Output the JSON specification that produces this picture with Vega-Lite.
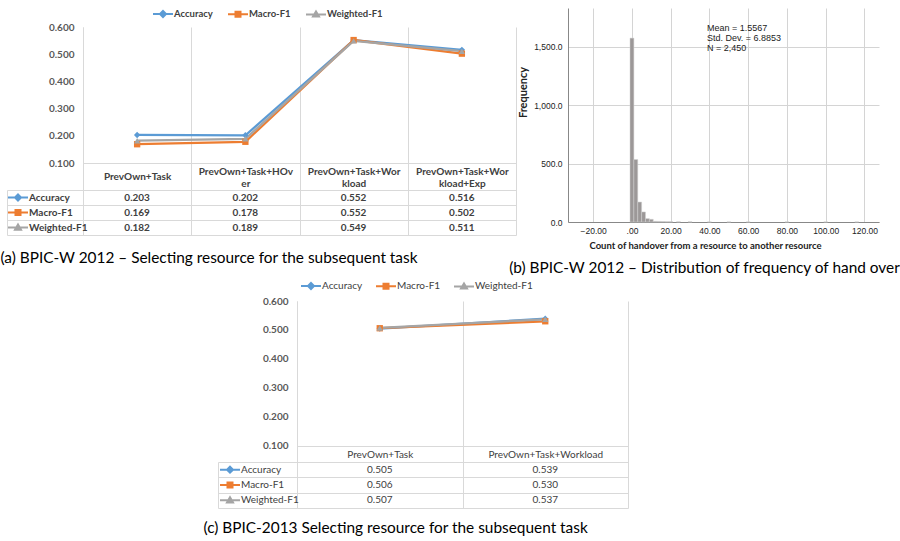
{
  "$schema": "https://vega.github.io/schema/vega-lite/v6.json",
  "width": 900,
  "height": 541,
  "autosize": "none",
  "padding": 0,
  "background": "white",
  "config": {"view": {"stroke": null}, "font": "Lato", "axis": {"labelFont": "Lato", "titleFont": "Lato"}, "legend": {"labelFont": "Lato"}},
  "datasets": {
    "a": [
      {"config": "PrevOwn+Task", "metric": "Accuracy", "value": 0.203},
      {"config": "PrevOwn+Task+HOver", "metric": "Accuracy", "value": 0.202},
      {"config": "PrevOwn+Task+Workload", "metric": "Accuracy", "value": 0.552},
      {"config": "PrevOwn+Task+Workload+Exp", "metric": "Accuracy", "value": 0.516},
      {"config": "PrevOwn+Task", "metric": "Macro-F1", "value": 0.169},
      {"config": "PrevOwn+Task+HOver", "metric": "Macro-F1", "value": 0.178},
      {"config": "PrevOwn+Task+Workload", "metric": "Macro-F1", "value": 0.552},
      {"config": "PrevOwn+Task+Workload+Exp", "metric": "Macro-F1", "value": 0.502},
      {"config": "PrevOwn+Task", "metric": "Weighted-F1", "value": 0.182},
      {"config": "PrevOwn+Task+HOver", "metric": "Weighted-F1", "value": 0.189},
      {"config": "PrevOwn+Task+Workload", "metric": "Weighted-F1", "value": 0.549},
      {"config": "PrevOwn+Task+Workload+Exp", "metric": "Weighted-F1", "value": 0.511}
    ],
    "c": [
      {"config": "PrevOwn+Task", "metric": "Accuracy", "value": 0.505},
      {"config": "PrevOwn+Task+Workload", "metric": "Accuracy", "value": 0.539},
      {"config": "PrevOwn+Task", "metric": "Macro-F1", "value": 0.506},
      {"config": "PrevOwn+Task+Workload", "metric": "Macro-F1", "value": 0.530},
      {"config": "PrevOwn+Task", "metric": "Weighted-F1", "value": 0.507},
      {"config": "PrevOwn+Task+Workload", "metric": "Weighted-F1", "value": 0.537}
    ],
    "hist": [
      {"bin_start": -1, "bin_end": 1, "count": 1575},
      {"bin_start": 1, "bin_end": 3, "count": 535},
      {"bin_start": 3, "bin_end": 5, "count": 171},
      {"bin_start": 5, "bin_end": 7, "count": 86},
      {"bin_start": 7, "bin_end": 9, "count": 29},
      {"bin_start": 9, "bin_end": 11, "count": 23},
      {"bin_start": 11, "bin_end": 13, "count": 6},
      {"bin_start": 13, "bin_end": 15, "count": 5},
      {"bin_start": 15, "bin_end": 17, "count": 4},
      {"bin_start": 17, "bin_end": 19, "count": 3},
      {"bin_start": 19, "bin_end": 21, "count": 3},
      {"bin_start": 23, "bin_end": 25, "count": 2},
      {"bin_start": 29, "bin_end": 31, "count": 2},
      {"bin_start": 39, "bin_end": 41, "count": 1},
      {"bin_start": 49, "bin_end": 51, "count": 1},
      {"bin_start": 59, "bin_end": 61, "count": 1},
      {"bin_start": 79, "bin_end": 81, "count": 1},
      {"bin_start": 99, "bin_end": 101, "count": 1},
      {"bin_start": 115, "bin_end": 117, "count": 1}
    ],
    "stats": [{"text": "Mean = 1.5567\nStd. Dev. = 6.8853\nN = 2,450"}]
  },
  "resolve": {
    "scale": {"x": "independent", "y": "independent", "color": "independent", "shape": "independent", "fill": "independent", "stroke": "independent"},
    "axis": {"x": "independent", "y": "independent"},
    "legend": {"color": "independent", "shape": "independent", "fill": "independent", "stroke": "independent"}
  },
  "layer": [
    {
      "data": {"name": "a"},
      "mark": {"type": "line", "strokeWidth": 2.25},
      "encoding": {
        "x": {"field": "config", "type": "nominal",
          "scale": {"domain": ["PrevOwn+Task", "PrevOwn+Task+HOver", "PrevOwn+Task+Workload", "PrevOwn+Task+Workload+Exp"], "range": [83, 516], "paddingInner": 0, "paddingOuter": 0},
          "axis": {"orient": "top", "offset": -190, "grid": true, "tickBand": "extent", "gridColor": "#d9d9d9", "domain": false, "ticks": false, "labelAngle": 0,
            "labelExpr": "length(datum.label) > 16 ? [substring(datum.label, 0, 16), substring(datum.label, 16)] : datum.label",
            "labelFontWeight": "bold", "labelFontSize": 10, "labelColor": "#404040", "labelBaseline": "middle",
            "labelPadding": {"condition": {"test": "length(datum.label) > 16", "value": 19}, "value": 13.5},
            "labelLineHeight": 12, "labelOverlap": false, "labelLimit": 200, "title": null}},
        "y": {"field": "value", "type": "quantitative",
          "scale": {"domain": [-0.1647, 0.6], "range": [235, 27], "nice": false, "zero": false},
          "axis": {"orient": "left", "offset": -83, "values": [0.1, 0.2, 0.3, 0.4, 0.5, 0.6], "format": ".3f", "labelFontWeight": "bold", "labelFontSize": 10, "labelColor": "#595959", "labelPadding": 9, "ticks": false, "domain": true, "domainColor": "#d9d9d9", "grid": true, "gridColor": "#d9d9d9",
            "gridOpacity": {"condition": {"test": "datum.value === 0.1", "value": 1}, "value": 0}, "labelOverlap": false, "title": null}},
        "color": {"field": "metric", "type": "nominal",
          "scale": {"domain": ["Accuracy", "Macro-F1", "Weighted-F1"], "range": ["#5B9BD5", "#ED7D31", "#A5A5A5"]},
          "legend": {"orient": "none", "legendX": 152, "legendY": 3, "direction": "horizontal", "title": null, "padding": 0, "symbolSize": 400, "symbolStrokeWidth": 2, "labelFontSize": 9.5, "labelFontWeight": "bold", "labelColor": "#404040", "labelOffset": 0, "columnPadding": 11,
            "encode": {"symbols": {"update": {
              "shape": {"signal": "datum.value === 'Accuracy' ? 'M-1,0H1M0,-0.3L0.3,0L0,0.3L-0.3,0Z' : datum.value === 'Macro-F1' ? 'M-1,0H1M-0.25,-0.25H0.25V0.25H-0.25Z' : 'M-1,0H1M0,-0.3L0.3,0.22H-0.3Z'"},
              "fill": {"signal": "datum.value === 'Accuracy' ? '#5B9BD5' : datum.value === 'Macro-F1' ? '#ED7D31' : '#A5A5A5'"},
              "stroke": {"signal": "datum.value === 'Accuracy' ? '#5B9BD5' : datum.value === 'Macro-F1' ? '#ED7D31' : '#A5A5A5'"},
              "strokeWidth": {"value": 2}, "opacity": {"value": 1}}}}}}
      }
    },
    {
      "data": {"name": "a"},
      "mark": {"type": "point", "filled": true, "opacity": 1, "size": 40},
      "encoding": {
        "x": {"field": "config", "type": "nominal",
          "scale": {"domain": ["PrevOwn+Task", "PrevOwn+Task+HOver", "PrevOwn+Task+Workload", "PrevOwn+Task+Workload+Exp"], "range": [83, 516], "paddingInner": 0, "paddingOuter": 0}, "axis": null},
        "y": {"field": "value", "type": "quantitative",
          "scale": {"domain": [-0.1647, 0.6], "range": [235, 27], "nice": false, "zero": false}, "axis": null},
        "color": {"field": "metric", "type": "nominal",
          "scale": {"domain": ["Accuracy", "Macro-F1", "Weighted-F1"], "range": ["#5B9BD5", "#ED7D31", "#A5A5A5"]}, "legend": null},
        "shape": {"field": "metric", "type": "nominal", "scale": {"domain": ["Accuracy", "Macro-F1", "Weighted-F1"], "range": ["diamond", "square", "triangle-up"]}, "legend": null}
      }
    },
    {
      "data": {"name": "a"},
      "mark": {"type": "text", "font": "Lato", "fontSize": 10, "fontWeight": "bold", "color": "#404040", "baseline": "middle"},
      "encoding": {
        "x": {"field": "config", "type": "nominal",
          "scale": {"domain": ["PrevOwn+Task", "PrevOwn+Task+HOver", "PrevOwn+Task+Workload", "PrevOwn+Task+Workload+Exp"], "range": [83, 516], "paddingInner": 0, "paddingOuter": 0},
          "axis": {"orient": "bottom", "offset": -306, "labels": false, "ticks": false, "domain": false, "grid": false,
            "title": "(a) BPIC-W 2012 – Selecting resource for the subsequent task", "titleX": 0, "titleY": 22, "titleAlign": "left", "titleAnchor": "start", "titleBaseline": "middle", "titleFont": "Lato", "titleFontSize": 15.4, "titleFontWeight": "normal", "titleColor": "#000000"}},
        "y": {"field": "metric", "type": "nominal",
          "scale": {"domain": ["Accuracy", "Macro-F1", "Weighted-F1"], "range": [190, 235], "paddingInner": 0, "paddingOuter": 0},
          "axis": {"orient": "left", "labels": false, "ticks": false, "domain": false, "grid": true, "tickBand": "extent", "gridColor": "#d9d9d9", "title": null}},
        "text": {"field": "value", "type": "quantitative", "format": ".3f"}
      }
    },
    {
      "data": {"name": "a"},
      "transform": [{"filter": "datum.config === 'PrevOwn+Task'"}],
      "encoding": {
        "x": {"datum": "key", "type": "nominal", "bandPosition": 0,
          "scale": {"range": [7, 83], "paddingInner": 0, "paddingOuter": 0},
          "axis": {"orient": "top", "grid": true, "tickBand": "extent", "gridColor": "#d9d9d9", "labels": false, "ticks": false, "domain": false, "title": null}},
        "y": {"field": "metric", "type": "nominal",
          "scale": {"domain": ["Accuracy", "Macro-F1", "Weighted-F1"], "range": [190, 235], "paddingInner": 0, "paddingOuter": 0},
          "axis": {"orient": "left", "labels": false, "ticks": false, "domain": false, "grid": true, "tickBand": "extent", "gridColor": "#d9d9d9", "title": null}}
      },
      "layer": [
        {"mark": {"type": "point", "filled": true, "opacity": 1, "size": 400, "strokeWidth": 2, "xOffset": 11},
         "encoding": {
           "shape": {"field": "metric", "type": "nominal", "scale": {"domain": ["Accuracy", "Macro-F1", "Weighted-F1"], "range": ["M-1,0H1M0,-0.3L0.3,0L0,0.3L-0.3,0Z", "M-1,0H1M-0.25,-0.25H0.25V0.25H-0.25Z", "M-1,0H1M0,-0.3L0.3,0.22H-0.3Z"]}, "legend": null},
           "fill": {"field": "metric", "type": "nominal", "scale": {"domain": ["Accuracy", "Macro-F1", "Weighted-F1"], "range": ["#5B9BD5", "#ED7D31", "#A5A5A5"]}, "legend": null},
           "stroke": {"field": "metric", "type": "nominal", "scale": {"domain": ["Accuracy", "Macro-F1", "Weighted-F1"], "range": ["#5B9BD5", "#ED7D31", "#A5A5A5"]}, "legend": null}}},
        {"mark": {"type": "text", "align": "left", "baseline": "middle", "dx": 22, "font": "Lato", "fontSize": 10, "fontWeight": "bold", "color": "#404040"},
         "encoding": {"text": {"field": "metric"}}}
      ]
    },
    {
      "data": {"name": "hist"},
      "mark": {"type": "rect", "fill": "#9c9898", "stroke": "#d0d0d0", "strokeWidth": 0.5},
      "encoding": {
        "x": {"field": "bin_start", "type": "quantitative",
          "scale": {"domain": [-33, 127.5], "range": [568, 879], "nice": false, "zero": false},
          "axis": {"orient": "top", "values": [-20, 0, 20, 40, 60, 80, 100, 120], "grid": true, "gridColor": "#d4d4d4", "labels": false, "ticks": false, "domain": false, "title": null}},
        "x2": {"field": "bin_end"},
        "y": {"field": "count", "type": "quantitative",
          "scale": {"domain": [0, 1833], "range": [222, 8], "nice": false, "zero": false},
          "axis": {"orient": "left", "offset": -568, "values": [0, 500, 1000, 1500], "format": ",.1f", "grid": true, "gridColor": "#d4d4d4", "ticks": false, "domain": true, "domainColor": "#888888",
            "labelFont": "Liberation Sans", "labelFontSize": 8.5, "labelColor": "#222222", "labelPadding": 6, "labelOverlap": false, "labelFlush": false,
            "title": "Frequency", "titleFont": "Lato", "titleFontSize": 11, "titleFontWeight": "bold", "titleColor": "#222222", "titleX": -45, "titleY": 92, "titleAngle": 270, "titleAlign": "center", "titleBaseline": "middle"}},
        "y2": {"datum": 0}
      }
    },
    {
      "data": {"name": "stats"},
      "mark": {"type": "text", "align": "left", "baseline": "top", "lineBreak": "\n", "font": "Liberation Sans", "fontSize": 9, "lineHeight": 10, "color": "#222222"},
      "encoding": {
        "text": {"field": "text"},
        "x": {"datum": 38.7, "type": "quantitative",
          "scale": {"domain": [-33, 127.5], "range": [568, 879], "nice": false, "zero": false},
          "axis": {"orient": "bottom", "offset": -319, "values": [-20, 0, 20, 40, 60, 80, 100, 120],
            "labelExpr": "datum.value === 0 ? '.00' : format(datum.value, '.2f')",
            "ticks": false, "domain": true, "domainColor": "#888888", "grid": false,
            "labelFont": "Liberation Sans", "labelFontSize": 8.5, "labelColor": "#222222", "labelPadding": 4, "labelFlush": false, "labelOverlap": false,
            "title": "Count of handover from a resource to another resource", "titleFont": "Lato", "titleFontSize": 9.5, "titleFontWeight": "bold", "titleColor": "#222222", "titleX": 705, "titleY": 23, "titleAlign": "center", "titleBaseline": "middle"}},
        "y": {"datum": 1700, "type": "quantitative",
          "scale": {"domain": [0, 1833], "range": [222, 8], "nice": false, "zero": false},
          "axis": {"orient": "right", "labels": false, "ticks": false, "domain": false, "grid": false,
            "title": "(b) BPIC-W 2012 – Distribution of frequency of hand over", "titleAngle": 0, "titleX": -196, "titleY": 267, "titleAlign": "center", "titleBaseline": "middle", "titleFont": "Lato", "titleFontSize": 15.4, "titleFontWeight": "normal", "titleColor": "#000000"}}
      }
    },
    {
      "data": {"name": "c"},
      "mark": {"type": "line", "strokeWidth": 2.25},
      "encoding": {
        "x": {"field": "config", "type": "nominal",
          "scale": {"domain": ["PrevOwn+Task", "PrevOwn+Task+Workload"], "range": [297, 628], "paddingInner": 0, "paddingOuter": 0},
          "axis": {"orient": "top", "offset": -462, "grid": true, "tickBand": "extent", "gridColor": "#d9d9d9", "domain": false, "ticks": false, "labelAngle": 0,
            "labelFontSize": 10, "labelColor": "#404040", "labelBaseline": "middle", "labelPadding": 8, "labelOverlap": false, "labelLimit": 200, "title": null}},
        "y": {"field": "value", "type": "quantitative",
          "scale": {"domain": [-0.1145, 0.6], "range": [508, 301], "nice": false, "zero": false},
          "axis": {"orient": "left", "offset": -297, "values": [0.1, 0.2, 0.3, 0.4, 0.5, 0.6], "format": ".3f", "labelFontWeight": "bold", "labelFontSize": 10, "labelColor": "#595959", "labelPadding": 9, "ticks": false, "domain": true, "domainColor": "#d9d9d9", "grid": true, "gridColor": "#d9d9d9",
            "gridOpacity": {"condition": {"test": "datum.value === 0.1", "value": 1}, "value": 0}, "labelOverlap": false, "title": null}},
        "color": {"field": "metric", "type": "nominal",
          "scale": {"domain": ["Accuracy", "Macro-F1", "Weighted-F1"], "range": ["#5B9BD5", "#ED7D31", "#A5A5A5"]},
          "legend": {"orient": "none", "legendX": 300, "legendY": 275, "direction": "horizontal", "title": null, "padding": 0, "symbolSize": 400, "symbolStrokeWidth": 2, "labelFontSize": 10, "labelColor": "#404040", "labelOffset": 0, "columnPadding": 9,
            "encode": {"symbols": {"update": {
              "shape": {"signal": "datum.value === 'Accuracy' ? 'M-1,0H1M0,-0.3L0.3,0L0,0.3L-0.3,0Z' : datum.value === 'Macro-F1' ? 'M-1,0H1M-0.25,-0.25H0.25V0.25H-0.25Z' : 'M-1,0H1M0,-0.3L0.3,0.22H-0.3Z'"},
              "fill": {"signal": "datum.value === 'Accuracy' ? '#5B9BD5' : datum.value === 'Macro-F1' ? '#ED7D31' : '#A5A5A5'"},
              "stroke": {"signal": "datum.value === 'Accuracy' ? '#5B9BD5' : datum.value === 'Macro-F1' ? '#ED7D31' : '#A5A5A5'"},
              "strokeWidth": {"value": 2}, "opacity": {"value": 1}}}}}}
      }
    },
    {
      "data": {"name": "c"},
      "mark": {"type": "point", "filled": true, "opacity": 1, "size": 40},
      "encoding": {
        "x": {"field": "config", "type": "nominal",
          "scale": {"domain": ["PrevOwn+Task", "PrevOwn+Task+Workload"], "range": [297, 628], "paddingInner": 0, "paddingOuter": 0}, "axis": null},
        "y": {"field": "value", "type": "quantitative",
          "scale": {"domain": [-0.1145, 0.6], "range": [508, 301], "nice": false, "zero": false}, "axis": null},
        "color": {"field": "metric", "type": "nominal",
          "scale": {"domain": ["Accuracy", "Macro-F1", "Weighted-F1"], "range": ["#5B9BD5", "#ED7D31", "#A5A5A5"]}, "legend": null},
        "shape": {"field": "metric", "type": "nominal", "scale": {"domain": ["Accuracy", "Macro-F1", "Weighted-F1"], "range": ["diamond", "square", "triangle-up"]}, "legend": null}
      }
    },
    {
      "data": {"name": "c"},
      "mark": {"type": "text", "font": "Lato", "fontSize": 10, "color": "#404040", "baseline": "middle"},
      "encoding": {
        "x": {"field": "config", "type": "nominal",
          "scale": {"domain": ["PrevOwn+Task", "PrevOwn+Task+Workload"], "range": [297, 628], "paddingInner": 0, "paddingOuter": 0},
          "axis": {"orient": "bottom", "offset": -33, "labels": false, "ticks": false, "domain": false, "grid": false,
            "title": "(c) BPIC-2013 Selecting resource for the subsequent task", "titleX": 203, "titleY": 19, "titleAlign": "left", "titleAnchor": "start", "titleBaseline": "middle", "titleFont": "Lato", "titleFontSize": 15.4, "titleFontWeight": "normal", "titleColor": "#000000"}},
        "y": {"field": "metric", "type": "nominal",
          "scale": {"domain": ["Accuracy", "Macro-F1", "Weighted-F1"], "range": [462, 508], "paddingInner": 0, "paddingOuter": 0},
          "axis": {"orient": "left", "labels": false, "ticks": false, "domain": false, "grid": true, "tickBand": "extent", "gridColor": "#d9d9d9", "title": null}},
        "text": {"field": "value", "type": "quantitative", "format": ".3f"}
      }
    },
    {
      "data": {"name": "c"},
      "transform": [{"filter": "datum.config === 'PrevOwn+Task'"}],
      "encoding": {
        "x": {"datum": "key", "type": "nominal", "bandPosition": 0,
          "scale": {"range": [218, 297], "paddingInner": 0, "paddingOuter": 0},
          "axis": {"orient": "top", "grid": true, "tickBand": "extent", "gridColor": "#d9d9d9", "labels": false, "ticks": false, "domain": false, "title": null}},
        "y": {"field": "metric", "type": "nominal",
          "scale": {"domain": ["Accuracy", "Macro-F1", "Weighted-F1"], "range": [462, 508], "paddingInner": 0, "paddingOuter": 0},
          "axis": {"orient": "left", "labels": false, "ticks": false, "domain": false, "grid": true, "tickBand": "extent", "gridColor": "#d9d9d9", "title": null}}
      },
      "layer": [
        {"mark": {"type": "point", "filled": true, "opacity": 1, "size": 400, "strokeWidth": 2, "xOffset": 12},
         "encoding": {
           "shape": {"field": "metric", "type": "nominal", "scale": {"domain": ["Accuracy", "Macro-F1", "Weighted-F1"], "range": ["M-1,0H1M0,-0.3L0.3,0L0,0.3L-0.3,0Z", "M-1,0H1M-0.25,-0.25H0.25V0.25H-0.25Z", "M-1,0H1M0,-0.3L0.3,0.22H-0.3Z"]}, "legend": null},
           "fill": {"field": "metric", "type": "nominal", "scale": {"domain": ["Accuracy", "Macro-F1", "Weighted-F1"], "range": ["#5B9BD5", "#ED7D31", "#A5A5A5"]}, "legend": null},
           "stroke": {"field": "metric", "type": "nominal", "scale": {"domain": ["Accuracy", "Macro-F1", "Weighted-F1"], "range": ["#5B9BD5", "#ED7D31", "#A5A5A5"]}, "legend": null}}},
        {"mark": {"type": "text", "align": "left", "baseline": "middle", "dx": 23, "font": "Lato", "fontSize": 10, "color": "#404040"},
         "encoding": {"text": {"field": "metric"}}}
      ]
    }
  ]
}
